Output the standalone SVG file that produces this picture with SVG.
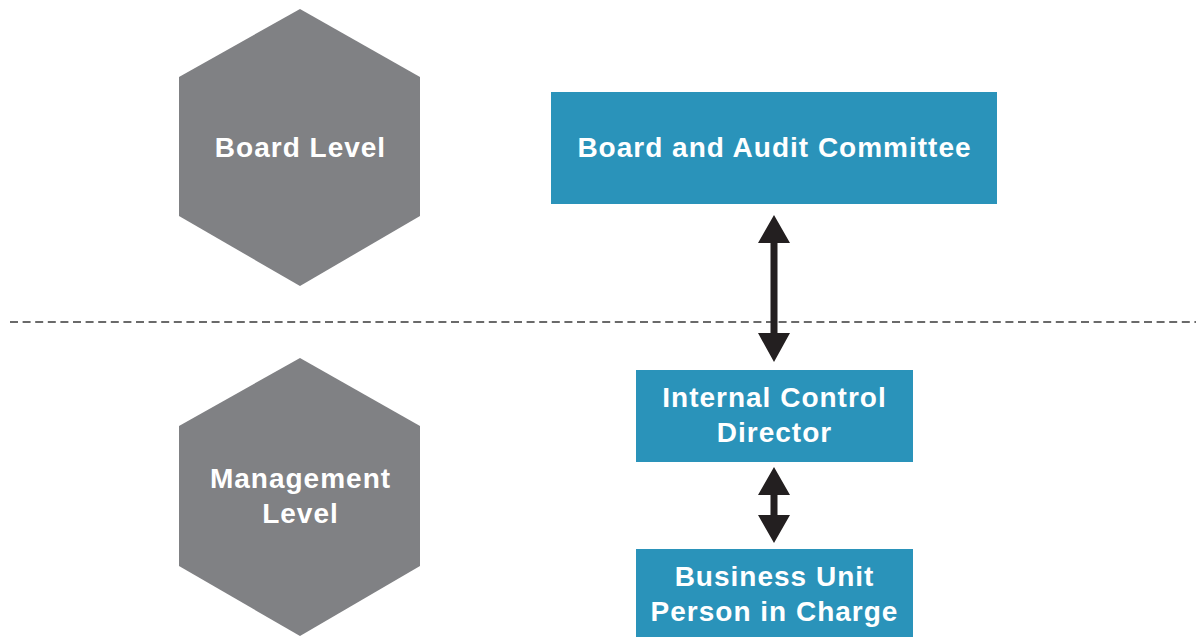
<svg xmlns="http://www.w3.org/2000/svg" width="1196" height="637" viewBox="0 0 1196 637">
<style>
.hex{fill:#808184}
.box{fill:#2A93BA}
.t{font-family:"Liberation Sans",Arial,sans-serif;font-weight:bold;font-size:28px;letter-spacing:1px;fill:#fff;text-anchor:middle}
.arr{fill:#231F20}
</style>
<rect width="1196" height="637" fill="#fff"/>
<g id="divider">
<line x1="10" y1="322" x2="1196" y2="322" stroke="#3a3a3a" stroke-width="1.6" stroke-dasharray="8,4.6"/>
</g>
<g id="board-level">
<polygon class="hex" points="300,9 420,77 420,216 300,286 179,216 179,77"/>
<text class="t" x="300.5" y="157">Board Level</text>
</g>
<g id="management-level">
<polygon class="hex" points="300,358 420,426 420,566 300,636 179,566 179,426"/>
<text class="t" x="300.5" y="488">Management</text>
<text class="t" x="300.5" y="523">Level</text>
</g>
<g id="board-audit">
<rect class="box" x="551" y="92" width="446" height="112"/>
<text class="t" x="774.5" y="157">Board and Audit Committee</text>
</g>
<g id="ic-director">
<rect class="box" x="636" y="370" width="277" height="92"/>
<text class="t" x="774.5" y="407">Internal Control</text>
<text class="t" x="774.5" y="442">Director</text>
</g>
<g id="bu-person">
<rect class="box" x="636" y="549" width="277" height="88"/>
<text class="t" x="774.5" y="586">Business Unit</text>
<text class="t" x="774.5" y="621">Person in Charge</text>
</g>
<g id="connectors">
<polygon class="arr" points="774,215 790,243 777.5,243 777.5,333 790,333 774,362 758,333 770.5,333 770.5,243 758,243"/>
<polygon class="arr" points="774,467 790,495 777.5,495 777.5,515 790,515 774,543 758,515 770.5,515 770.5,495 758,495"/>
</g>
</svg>
